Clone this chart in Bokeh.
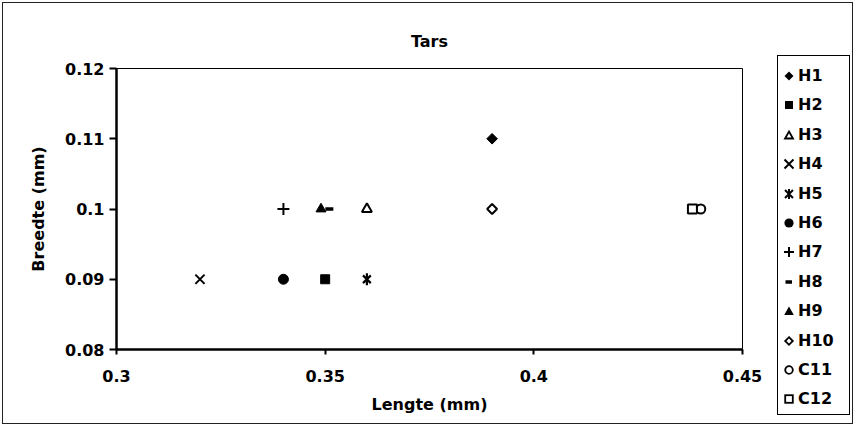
import math
from bokeh.plotting import figure
from bokeh.layouts import row
from bokeh.models import FixedTicker, NumeralTickFormatter, Range1d, Div
from bokeh.embed import file_html
from bokeh.resources import INLINE

# ---- data ----
names = ["H1", "H2", "H3", "H4", "H5", "H6", "H7", "H8", "H9", "H10", "C11", "C12"]
lengte = [0.39, 0.35, 0.36, 0.32, 0.36, 0.34, 0.34, 0.351, 0.349, 0.39, 0.44, 0.438]
breedte = [0.11, 0.09, 0.10, 0.09, 0.09, 0.09, 0.10, 0.10, 0.10, 0.10, 0.10, 0.10]
x_ticks = [0.3, 0.35, 0.4, 0.45]
y_ticks = [0.08, 0.09, 0.10, 0.11, 0.12]

FONT = "DejaVu Sans"

p = figure(width=770, height=426, output_backend="svg", toolbar_location=None,
           x_range=Range1d(0.3, 0.45), y_range=Range1d(0.08, 0.12),
           min_border_left=116, min_border_right=28, min_border_top=68, min_border_bottom=77)
p.border_fill_color = None

p.title.text = "Tars"
p.title.align = "center"
p.title.text_font = FONT
p.title.text_font_size = "16px"
p.title.text_font_style = "bold"
p.title.text_color = "black"
p.title.standoff = 35

p.xgrid.visible = False
p.ygrid.visible = False
p.outline_line_color = "black"
p.outline_line_width = 1

for ax in (p.xaxis[0], p.yaxis[0]):
    ax.axis_line_width = 2.5
    ax.axis_line_color = "black"
    ax.major_tick_line_width = 2
    ax.major_tick_line_color = "black"
    ax.minor_tick_line_color = None
    ax.major_tick_in = 0
    ax.major_label_text_font = FONT
    ax.major_label_text_font_size = "16px"
    ax.major_label_text_font_style = "bold"
    ax.major_label_text_color = "black"
    ax.axis_label_text_font = FONT
    ax.axis_label_text_font_size = "16px"
    ax.axis_label_text_font_style = "bold"
    ax.axis_label_text_color = "black"

p.xaxis.ticker = FixedTicker(ticks=x_ticks)
p.yaxis.ticker = FixedTicker(ticks=y_ticks)
p.xaxis.formatter = NumeralTickFormatter(format="0.[00]")
p.yaxis.formatter = NumeralTickFormatter(format="0.[00]")
p.xaxis.axis_label = "Lengte (mm)"
p.yaxis.axis_label = "Breedte (mm)"
p.xaxis.major_tick_out = 5
p.xaxis.major_label_standoff = 15
p.xaxis.axis_label_standoff = 10
p.yaxis.major_tick_out = 7
p.yaxis.major_label_standoff = 5
p.yaxis.axis_label_standoff = 14

# marker styles per series: list of (marker, size, fill, line_width, angle)
styles = [
    [("square", 7.5, "black", 1, math.pi / 4)],
    [("square", 9, "black", 1, 0)],
    [("triangle", 10, "white", 2, 0)],
    [("x", 13, None, 2, 0)],
    [("x", 11, None, 2.2, 0), ("dash", 12, None, 2.2, math.pi / 2)],
    [("circle", 10, "black", 1, 0)],
    [("cross", 12, None, 2, 0)],
    [("dash", 8, None, 3.5, 0)],
    [("triangle", 10, "black", 1, 0)],
    [("square", 7, "white", 2, math.pi / 4)],
    [("circle", 9, "white", 2, 0)],
    [("square", 9, "white", 2, 0)],
]

for i, name in enumerate(names):
    for (mk, sz, fill, lw, ang) in styles[i]:
        p.scatter(x=[lengte[i]], y=[breedte[i]], marker=mk, size=sz,
                  fill_color=fill if fill else "black",
                  fill_alpha=1 if fill else 0,
                  line_color="black", line_width=lw, angle=ang)

# ---- legend (HTML box with small SVG symbols) ----
legend_svgs = [
    '<polygon points="6,1.5 10.5,6 6,10.5 1.5,6" fill="black"/>',
    '<rect x="2" y="2" width="8" height="8" fill="black"/>',
    '<polygon points="6,2.5 10,9.5 2,9.5" fill="white" stroke="black" stroke-width="1.8"/>',
    '<path d="M1.5,1.5 L10.5,10.5 M10.5,1.5 L1.5,10.5" stroke="black" stroke-width="2"/>',
    '<path d="M2,2 L10,10 M10,2 L2,10 M6,1 L6,11" stroke="black" stroke-width="2"/>',
    '<circle cx="6" cy="6" r="4.6" fill="black"/>',
    '<path d="M6,1 L6,11 M1,6 L11,6" stroke="black" stroke-width="2"/>',
    '<path d="M2.5,6 L9,6" stroke="black" stroke-width="3.5"/>',
    '<polygon points="6,1.5 10.8,10 1.2,10" fill="black"/>',
    '<polygon points="6,2.2 9.8,6 6,9.8 2.2,6" fill="white" stroke="black" stroke-width="1.8"/>',
    '<circle cx="6" cy="6" r="3.8" fill="white" stroke="black" stroke-width="1.8"/>',
    '<rect x="2.2" y="2.2" width="7.6" height="7.6" fill="white" stroke="black" stroke-width="1.8"/>',
]
rows_html = []
for i, name in enumerate(names):
    top = 20 + 29.4 * i - 12
    rows_html.append(
        f'<div style="position:absolute;left:0;top:{top:.1f}px;height:24px;width:70px;">'
        f'<svg width="12" height="12" viewBox="0 0 12 12" style="position:absolute;left:5px;top:6px;">'
        f'{legend_svgs[i]}</svg>'
        f'<span style="position:absolute;left:20px;top:0;line-height:24px;">{name}</span></div>'
    )
legend_html = (
    '<div style="position:relative;width:85px;height:426px;">'
    '<div style="position:absolute;left:7px;top:55px;width:73px;height:360px;'
    'box-sizing:border-box;border:1.5px solid black;background:white;'
    f"font-family:'{FONT}';font-weight:bold;font-size:16px;color:black;\">"
    + "".join(rows_html) + "</div></div>"
)
leg = Div(text=legend_html, width=85, height=426, styles={"margin": "0", "padding": "0"})

layout = row(p, leg, spacing=0)
layout.styles = {"outline": "1px solid #222", "outline-offset": "-3px"}

open("out.html", "w").write(file_html(layout, INLINE))
